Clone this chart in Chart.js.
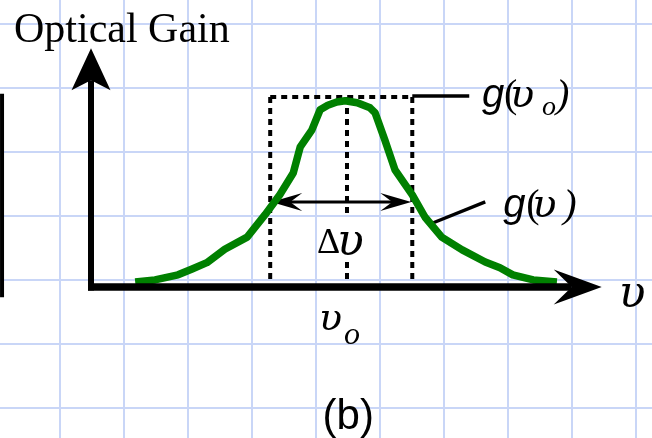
<!DOCTYPE html>
<html>
<head>
<meta charset="utf-8">
<script src="https://cdn.jsdelivr.net/npm/chart.js@4/dist/chart.umd.min.js"></script>
<style>
  html, body { margin: 0; padding: 0; background: #ffffff; }
  canvas { display: block; }
</style>
</head>
<body>
<canvas id="gainChart" width="652" height="438"></canvas>
<script>
// Gain spectrum g(ν): frequency (arbitrary units) and optical gain
const freq = [0.69, 1.00, 1.36, 1.58, 1.81, 2.09, 2.44, 2.72, 2.95, 3.16,
              3.27, 3.45, 3.58, 3.70, 3.84, 3.97, 4.16, 4.36, 4.44, 4.59,
              4.75, 5.02, 5.22, 5.48, 5.80, 6.16, 6.39, 6.59, 6.91, 7.28];
const gain = [0.08, 0.11, 0.19, 0.28, 0.38, 0.59, 0.78, 1.13, 1.44, 1.78,
              2.19, 2.45, 2.77, 2.84, 2.89, 2.91, 2.88, 2.80, 2.72, 2.30,
              1.83, 1.44, 1.09, 0.78, 0.58, 0.39, 0.30, 0.19, 0.11, 0.08];

// Line centre, bandwidth edges, peak gain and the level of the Δν arrow
const nu0 = 4.0;
const nuLow = 2.80;
const nuHigh = 5.02;
const gPeak = 2.97;
const gWidthLevel = 1.33;

// Text labels
const axisTitle = 'Optical Gain';
const panelTag = '(b)';

// Background paper grid (one cell = one unit)
const GRID = { x0: -0.484375, nx: 10, y0: -1.890625, ny: 7 };

const SERIF = "'Liberation Serif', 'Times New Roman', serif";
const SANS = "'Liberation Sans', Arial, sans-serif";
const GREEK = "'DejaVu Serif', serif";

function arrowHead(ctx, tx, ty, dx, dy, len, half, notch) {
  const px = -dy, py = dx;
  const bx = tx - dx * len, by = ty - dy * len;
  ctx.beginPath();
  ctx.moveTo(tx, ty);
  ctx.lineTo(bx + px * half, by + py * half);
  ctx.lineTo(tx - dx * notch, ty - dy * notch);
  ctx.lineTo(bx - px * half, by - py * half);
  ctx.closePath();
  ctx.fill();
}

function line(ctx, x1, y1, x2, y2, w, dash) {
  ctx.save();
  ctx.lineWidth = w;
  ctx.setLineDash(dash || []);
  ctx.beginPath();
  ctx.moveTo(x1, y1);
  ctx.lineTo(x2, y2);
  ctx.stroke();
  ctx.restore();
}

// Draw a run of glyphs, each with its own font and offset from the anchor
function glyphs(ctx, x, y, parts) {
  parts.forEach(p => {
    ctx.font = p.font;
    ctx.fillText(p.t, x + p.dx, y + (p.dy || 0));
  });
}

const sketch = {
  id: 'sketch',
  beforeDatasetsDraw(chart) {
    const ctx = chart.ctx;
    const X = v => chart.scales.x.getPixelForValue(v);
    const Y = v => chart.scales.y.getPixelForValue(v);
    ctx.save();
    ctx.strokeStyle = '#000';
    ctx.fillStyle = '#000';
    ctx.lineCap = 'butt';
    const dots = [6, 5];

    // bandwidth box
    line(ctx, X(nuLow), Y(gPeak), X(nuHigh), Y(gPeak), 4, dots);
    line(ctx, X(nuLow), Y(gPeak), X(nuLow), Y(0), 4, dots);
    line(ctx, X(nuHigh), Y(gPeak), X(nuHigh), Y(0), 4, dots);
    // line centre ν0
    line(ctx, X(nu0), Y(gPeak), X(nu0), Y(1.14), 4, dots);
    line(ctx, X(nu0), Y(0.39), X(nu0), Y(0), 4, dots);

    // leader to g(ν0)
    line(ctx, X(nuHigh), Y(gPeak) - 1, X(5.91), Y(gPeak) - 1, 3.5);
    // leader to g(ν)
    line(ctx, X(5.34), Y(1.0), X(6.16), Y(1.33), 3.5);

    // Δν double arrow
    const ay = Y(gWidthLevel);
    line(ctx, X(nuLow) + 10, ay, X(nuHigh) - 10, ay, 3);
    arrowHead(ctx, X(nuLow) + 1, ay, -1, 0, 31, 9, 19);
    arrowHead(ctx, X(nuHigh) - 1, ay, 1, 0, 31, 9, 19);
    ctx.restore();
  },
  afterDatasetsDraw(chart) {
    const ctx = chart.ctx;
    const X = v => chart.scales.x.getPixelForValue(v);
    const Y = v => chart.scales.y.getPixelForValue(v);
    ctx.save();
    ctx.strokeStyle = '#000';
    ctx.fillStyle = '#000';
    ctx.lineCap = 'butt';

    // edge of the neighbouring panel
    line(ctx, X(-1.39), Y(3.02), X(-1.39), Y(-0.16), 4);

    // axes with arrowheads
    const ox = X(0), oy = Y(0);
    const yTip = Y(3.73), xTip = X(7.98);
    line(ctx, ox, oy + 3.5, ox, yTip + 32, 6);
    line(ctx, ox - 3, oy, xTip - 30, oy, 7.5);
    arrowHead(ctx, ox, yTip, 0, -1, 42, 19.5, 32);
    arrowHead(ctx, xTip, oy, 1, 0, 48, 17.5, 30);

    ctx.textBaseline = 'alphabetic';
    ctx.textAlign = 'left';

    // axis title
    ctx.font = '42px ' + SERIF;
    ctx.fillText(axisTitle, X(-1.1875) - 1, Y(3.83));

    // g(ν0)
    glyphs(ctx, X(6.11), Y(2.81), [
      { t: 'g', font: 'italic 40px ' + SANS, dx: 0 },
      { t: '(', font: '40px ' + SERIF, dx: 22 },
      { t: 'υ', font: 'italic 40px ' + GREEK, dx: 28 },
      { t: 'o', font: 'italic 28px ' + SERIF, dx: 60, dy: 8 },
      { t: ')', font: 'italic 40px ' + SERIF, dx: 74 }
    ]);

    // g(ν)
    glyphs(ctx, X(6.44), Y(1.094), [
      { t: 'g', font: 'italic 40px ' + SANS, dx: 0 },
      { t: '(', font: '40px ' + SERIF, dx: 23 },
      { t: 'υ', font: 'italic 40px ' + GREEK, dx: 29 },
      { t: ')', font: 'italic 40px ' + SERIF, dx: 60 }
    ]);

    // Δν
    glyphs(ctx, X(3.53), Y(0.53), [
      { t: 'Δ', font: '36px ' + SERIF, dx: 0 },
      { t: 'υ', font: 'italic 44px ' + GREEK, dx: 20, dy: 2 }
    ]);

    // ν0 under the axis
    glyphs(ctx, X(3.61), Y(-0.67), [
      { t: 'υ', font: 'italic 38px ' + GREEK, dx: -3 },
      { t: 'o', font: 'italic 32px ' + SERIF, dx: 22, dy: 14 }
    ]);

    // ν at the end of the frequency axis
    ctx.font = 'italic 44px ' + GREEK;
    ctx.fillText('υ', X(8.31) - 4, Y(-0.31));

    // panel tag
    ctx.textAlign = 'center';
    ctx.font = '42px ' + SANS;
    ctx.fillText(panelTag, X(4.02), Y(-2.22));
    ctx.restore();
  }
};

function gridTicks(start, count) {
  const t = [];
  for (let k = 0; k < count; k++) t.push({ value: start + k });
  return t;
}

const gridStyle = { color: '#c9d6f7', lineWidth: 2, drawTicks: false, tickLength: 0 };

new Chart(document.getElementById('gainChart'), {
  type: 'scatter',
  data: {
    datasets: [{
      data: freq.map((f, i) => ({ x: f, y: gain[i] })),
      showLine: true,
      borderColor: '#008000',
      borderWidth: 7.5,
      borderJoinStyle: 'round',
      borderCapStyle: 'butt',
      pointRadius: 0,
      pointHoverRadius: 0,
      tension: 0,
      clip: false
    }]
  },
  options: {
    responsive: false,
    animation: false,
    events: [],
    layout: { padding: 0 },
    plugins: { legend: { display: false }, tooltip: { enabled: false }, title: { display: false } },
    scales: {
      x: {
        type: 'linear',
        bounds: 'data',
        min: -91 / 64,
        max: 561 / 64,
        ticks: { display: false, stepSize: 1 },
        border: { display: false },
        grid: gridStyle,
        afterBuildTicks: s => { s.ticks = gridTicks(GRID.x0, GRID.nx); }
      },
      y: {
        type: 'linear',
        bounds: 'data',
        min: -151 / 64,
        max: 287 / 64,
        ticks: { display: false, stepSize: 1 },
        border: { display: false },
        grid: gridStyle,
        afterBuildTicks: s => { s.ticks = gridTicks(GRID.y0, GRID.ny); }
      }
    }
  },
  plugins: [sketch]
});
</script>
</body>
</html>
